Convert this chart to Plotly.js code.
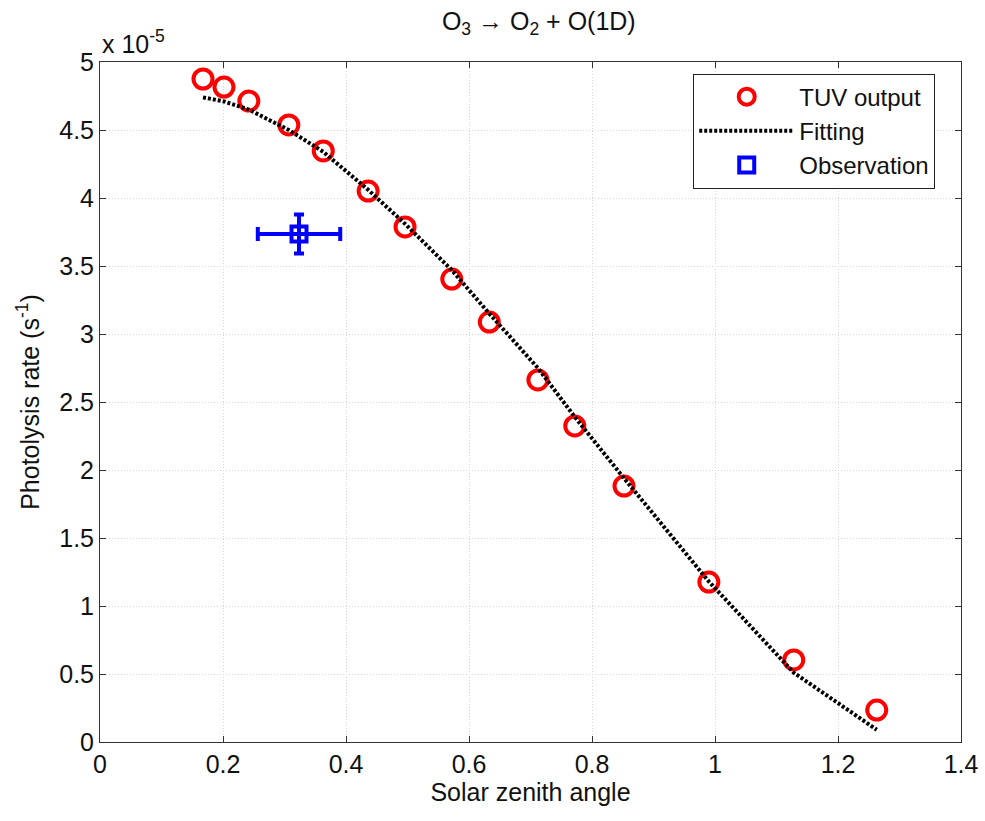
<!DOCTYPE html>
<html>
<head>
<meta charset="utf-8">
<script src="https://cdn.plot.ly/plotly-3.0.1.min.js"></script>
<style>html,body{margin:0;padding:0;background:#fff;}#chart{width:985px;height:821px;}</style>
</head>
<body>
<div id="chart"></div>
<script>
// Values in units of 1e-5 s^-1
const tuvZenith = [0.1675, 0.2016, 0.242, 0.307, 0.363, 0.436, 0.496, 0.572, 0.633, 0.712, 0.772, 0.852, 0.990, 1.128, 1.263];
const tuvRate   = [4.875, 4.816, 4.713, 4.537, 4.346, 4.051, 3.787, 3.404, 3.088, 2.662, 2.324, 1.882, 1.176, 0.603, 0.235];
const fitZenith = [0.1675, 0.2016, 0.242, 0.307, 0.363, 0.436, 0.496, 0.572, 0.633, 0.712, 0.772, 0.852, 0.990, 1.128, 1.263];
const fitRate   = [4.74, 4.71, 4.65, 4.50, 4.34, 4.06, 3.81, 3.47, 3.15, 2.75, 2.39, 1.94, 1.18, 0.51, 0.09];
const obsZenith = [0.3236];
const obsRate   = [3.735];
const obsZenithErr = [0.067];
const obsRateErr   = [0.143];
const xTicks = [0, 0.2, 0.4, 0.6, 0.8, 1, 1.2, 1.4];
const yTicks = [0, 0.5, 1, 1.5, 2, 2.5, 3, 3.5, 4, 4.5, 5];

const FONT = 'Liberation Sans, Arial, sans-serif';

const traces = [
  {
    x: tuvZenith, y: tuvRate, name: 'TUV output', type: 'scatter', mode: 'markers',
    marker: {symbol: 'circle-open', size: 19, color: '#ff0000', line: {width: 4, color: '#ff0000'}}
  },
  {
    x: fitZenith, y: fitRate, name: 'Fitting', type: 'scatter', mode: 'lines',
    line: {color: '#000000', width: 4, dash: '3px,2px'}
  },
  {
    x: obsZenith, y: obsRate, name: 'Observation', type: 'scatter', mode: 'markers',
    marker: {symbol: 'square-open', size: 15, color: '#0000ff', line: {width: 4, color: '#0000ff'}},
    error_x: {type: 'data', array: obsZenithErr, visible: true, color: '#0000ff', thickness: 4, width: 7},
    error_y: {type: 'data', array: obsRateErr, visible: true, color: '#0000ff', thickness: 4, width: 5}
  }
];

const axisCommon = {
  showline: true, linecolor: '#333333', linewidth: 1, mirror: 'allticks',
  ticks: 'inside', ticklen: 6, tickcolor: '#333333', tickwidth: 1,
  showgrid: true, gridcolor: '#d6d6d6', griddash: '1px,2px', gridwidth: 1,
  zeroline: false,
  tickfont: {family: FONT, size: 25, color: '#111111'}
};

const layout = {
  width: 985, height: 821,
  margin: {l: 100, r: 24, t: 62, b: 79},
  paper_bgcolor: '#ffffff', plot_bgcolor: '#ffffff',
  font: {family: FONT, size: 25, color: '#111111'},
  title: {text: 'O<sub>3</sub> → O<sub>2</sub> + O(1D)', x: 0.547, xanchor: 'center', y: 0.985, yanchor: 'top', font: {family: FONT, size: 25, color: '#111111'}},
  xaxis: Object.assign({}, axisCommon, {
    range: [0, 1.4], tickvals: xTicks, ticktext: xTicks.map(String),
    title: {text: 'Solar zenith angle', font: {family: FONT, size: 25, color: '#111111'}, standoff: 6}
  }),
  yaxis: Object.assign({}, axisCommon, {
    range: [0, 5], tickvals: yTicks, ticktext: yTicks.map(String),
    title: {text: 'Photolysis rate (s<sup>-1</sup>)', font: {family: FONT, size: 25, color: '#111111'}, standoff: 12}
  }),
  showlegend: true,
  legend: {
    x: 0.689, y: 0.983, xanchor: 'left', yanchor: 'top',
    bgcolor: '#ffffff', bordercolor: '#222222', borderwidth: 1,
    font: {family: FONT, size: 24, color: '#111111'},
    tracegroupgap: 0, itemwidth: 95
  },
  annotations: [{
    text: 'x 10<sup>-5</sup>', xref: 'paper', yref: 'paper', x: 0, y: 1, xanchor: 'left', yanchor: 'bottom',
    showarrow: false, yshift: 2, font: {family: FONT, size: 25, color: '#111111'}
  }]
};

Plotly.newPlot('chart', traces, layout, {displayModeBar: false, staticPlot: true});
</script>
</body>
</html>
